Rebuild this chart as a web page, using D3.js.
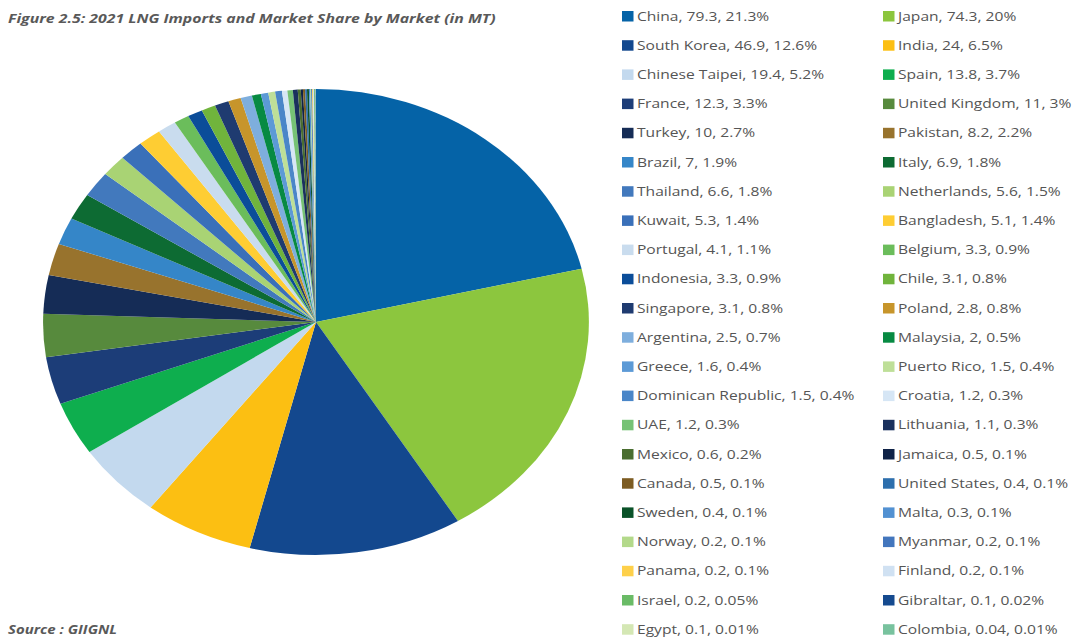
<!DOCTYPE html>
<html>
<head>
<meta charset="utf-8">
<script src="https://cdn.jsdelivr.net/npm/d3@7/dist/d3.min.js"></script>
<style>
  html, body { margin: 0; padding: 0; background: #fff; }
  svg { display: block; }
</style>
</head>
<body>
<svg id="chart" width="1075" height="639"></svg>
<script>
// 2021 LNG imports by market (million tonnes) and share of the world total
const markets = [
  "China", "Japan", "South Korea", "India", "Chinese Taipei", "Spain",
  "France", "United Kingdom", "Turkey", "Pakistan", "Brazil", "Italy",
  "Thailand", "Netherlands", "Kuwait", "Bangladesh", "Portugal", "Belgium",
  "Indonesia", "Chile", "Singapore", "Poland", "Argentina", "Malaysia",
  "Greece", "Puerto Rico", "Dominican Republic", "Croatia", "UAE", "Lithuania",
  "Mexico", "Jamaica", "Canada", "United States", "Sweden", "Malta",
  "Norway", "Myanmar", "Panama", "Finland", "Israel", "Gibraltar",
  "Egypt", "Colombia"
];
const imports = [
  79.3, 74.3, 46.9, 24, 19.4, 13.8,
  12.3, 11, 10, 8.2, 7, 6.9,
  6.6, 5.6, 5.3, 5.1, 4.1, 3.3,
  3.3, 3.1, 3.1, 2.8, 2.5, 2,
  1.6, 1.5, 1.5, 1.2, 1.2, 1.1,
  0.6, 0.5, 0.5, 0.4, 0.4, 0.3,
  0.2, 0.2, 0.2, 0.2, 0.2, 0.1,
  0.1, 0.04
];
const shareLabels = [
  "21.3%", "20%", "12.6%", "6.5%", "5.2%", "3.7%",
  "3.3%", "3%", "2.7%", "2.2%", "1.9%", "1.8%",
  "1.8%", "1.5%", "1.4%", "1.4%", "1.1%", "0.9%",
  "0.9%", "0.8%", "0.8%", "0.8%", "0.7%", "0.5%",
  "0.4%", "0.4%", "0.4%", "0.3%", "0.3%", "0.3%",
  "0.2%", "0.1%", "0.1%", "0.1%", "0.1%", "0.1%",
  "0.1%", "0.1%", "0.1%", "0.1%", "0.05%", "0.02%",
  "0.01%", "0.01%"
];
const colours = [
  "#0563a7", "#8cc63e", "#13488e", "#fcbf12", "#c3d9ee", "#0eae4e",
  "#1c3d78", "#578a3d", "#152c56", "#98732d", "#3586c8", "#0d6b33",
  "#4279bd", "#a9d374", "#3a70b9", "#fecd33", "#c9dcee", "#6bbd5b",
  "#0b4d99", "#70b43c", "#1f3b70", "#c7952b", "#7eaedd", "#078a42",
  "#5c9ad6", "#bedf98", "#4a86c8", "#d6e6f5", "#76c275", "#1a305d",
  "#4a6e30", "#0f2247", "#7d5c22", "#2d6fad", "#0a5228", "#5291d2",
  "#b3d98a", "#4376bd", "#fed04a", "#d0e1f2", "#6abb66", "#154a8f",
  "#d4e7b4", "#78c29e"
];

const svg = d3.select("#chart");
const rows = markets.map((m, i) => ({ name: m, value: imports[i], share: shareLabels[i], colour: colours[i] }));

// The whole figure is laid out slightly wide; text is stretched horizontally to suit
const stretch = 1.2;

// Title and source note
svg.append("text")
  .attr("transform", `translate(8,23) scale(${stretch},1)`)
  .attr("font-family", "'Open Sans', sans-serif")
  .attr("font-size", 13.2).attr("font-weight", 700).attr("font-style", "italic")
  .attr("fill", "#595959")
  .text("Figure 2.5: 2021 LNG Imports and Market Share by Market (in MT)");

svg.append("text")
  .attr("transform", `translate(8,634) scale(${stretch},1)`)
  .attr("font-family", "'Open Sans', sans-serif")
  .attr("font-size", 12.5).attr("font-weight", 700).attr("font-style", "italic")
  .attr("fill", "#595959")
  .text("Source : GIIGNL");

// Pie, drawn on a unit circle and stretched into an ellipse
const cx = 316, cy = 322, rx = 273, ry = 233;
const pie = d3.pie().value(d => d.value).sort(null);
const arc = d3.arc().innerRadius(0).outerRadius(1);

const pieG = svg.append("g")
  .attr("transform", `translate(${cx},${cy}) scale(${rx},${ry})`);

pieG.selectAll("path")
  .data(pie(rows))
  .join("path")
  .attr("d", arc)
  .attr("fill", d => d.data.colour);

// Legend: two columns, filled row by row
const legendX = [622, 883], legendY0 = 16, rowStep = 29.2;
const legend = svg.append("g")
  .attr("font-family", "'Open Sans', sans-serif")
  .attr("font-size", 13)
  .attr("fill", "#555555");

const items = legend.selectAll("g")
  .data(rows)
  .join("g")
  .attr("transform", (d, i) => `translate(${legendX[i % 2]},${legendY0 + Math.floor(i / 2) * rowStep})`);

items.append("rect")
  .attr("x", 0).attr("y", -5)
  .attr("width", 11.5).attr("height", 10.5)
  .attr("fill", d => d.colour);

items.append("text")
  .attr("transform", `translate(15,0) scale(${stretch},1)`)
  .attr("dy", "0.35em")
  .text(d => `${d.name}, ${d.value}, ${d.share}`);
</script>
</body>
</html>
